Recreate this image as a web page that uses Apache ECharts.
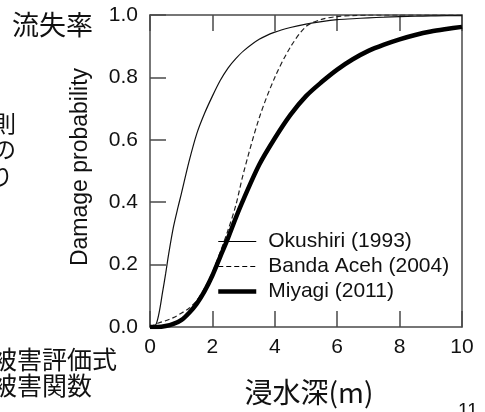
<!DOCTYPE html>
<html>
<head>
<meta charset="utf-8">
<script src="https://cdn.jsdelivr.net/npm/echarts@6/dist/echarts.min.js"></script>
<style>
html,body{margin:0;padding:0;background:#fff;}
#c{width:485px;height:412px;}
</style>
</head>
<body>
<div id="c"></div>
<script>
// ---- data ----
var okushiriDepth = [0, 0.1, 0.2, 0.3, 0.4, 0.5, 0.6, 0.75, 0.9, 1.0, 1.25, 1.5, 1.75, 2.0, 2.25, 2.5, 2.75, 3.0, 3.5, 4.0, 4.5, 5.0, 5.5, 6.0, 6.5, 7.0, 7.5, 8.0, 8.5, 9.0, 9.5, 10];
var okushiriProb  = [0, 0.001, 0.01, 0.05, 0.11, 0.17, 0.235, 0.32, 0.385, 0.425, 0.53, 0.62, 0.685, 0.74, 0.79, 0.83, 0.86, 0.885, 0.922, 0.945, 0.96, 0.971, 0.979, 0.985, 0.988, 0.991, 0.993, 0.995, 0.996, 0.997, 0.998, 0.998];

var bandaDepth = [0, 0.25, 0.5, 0.75, 1.0, 1.25, 1.5, 1.75, 2.0, 2.25, 2.5, 2.75, 3.0, 3.5, 4.0, 4.5, 5.0, 5.5, 6.0, 6.5, 7.0, 8.0, 9.0, 10];
var bandaProb  = [0, 0.012, 0.02, 0.03, 0.044, 0.06, 0.085, 0.125, 0.175, 0.24, 0.31, 0.39, 0.495, 0.67, 0.8, 0.897, 0.963, 0.986, 0.995, 0.998, 1.0, 1.0, 1.0, 1.0];

var miyagiDepth = [0, 0.25, 0.5, 0.75, 1.0, 1.25, 1.5, 1.75, 2.0, 2.25, 2.5, 2.75, 3.0, 3.5, 4.0, 4.5, 5.0, 5.5, 6.0, 6.5, 7.0, 7.5, 8.0, 8.5, 9.0, 9.5, 10];
var miyagiProb  = [0, 0, 0.003, 0.01, 0.022, 0.045, 0.075, 0.115, 0.165, 0.225, 0.285, 0.35, 0.41, 0.52, 0.605, 0.68, 0.74, 0.785, 0.825, 0.858, 0.885, 0.905, 0.922, 0.936, 0.947, 0.955, 0.962];

var seriesNames = ['Okushiri (1993)', 'Banda Aceh (2004)', 'Miyagi (2011)'];
var xTicks = [0, 2, 4, 6, 8, 10];
var yTicks = [0.0, 0.2, 0.4, 0.6, 0.8, 1.0];

function pairs(xs, ys) { return xs.map(function (x, i) { return [x, ys[i]]; }); }

var latin = '"Liberation Sans", Arial, sans-serif';
var cjk = '"Noto Sans CJK JP", sans-serif';
var frame = '#4a4a4a';
var lineW = [1.2, 1.2, 4.5];
var lineDash = ['solid', [5, 3], 'solid'];

var chart = echarts.init(document.getElementById('c'), null, {renderer: 'canvas'});
chart.setOption({
  animation: false,
  backgroundColor: '#fff',
  grid: {left: 150, right: 23, top: 15, bottom: 85},
  legend: {
    orient: 'vertical',
    left: 216, top: 231,
    padding: 0,
    itemGap: 4,
    itemWidth: 38, itemHeight: 14,
    itemStyle: {opacity: 0, borderWidth: 0},
    data: seriesNames.map(function (n, i) {
      return {name: n, lineStyle: {width: lineW[i], type: lineDash[i], color: '#000'}};
    }),
    textStyle: {fontFamily: latin, fontSize: 21, color: '#111', lineHeight: 21, padding: [0, 0, 0, 7]}
  },
  xAxis: [{
    type: 'value', min: xTicks[0], max: xTicks[xTicks.length - 1], interval: 2,
    axisLine: {show: true, onZero: false, lineStyle: {color: frame, width: 1.5}},
    axisTick: {show: true, inside: true, length: 16, lineStyle: {color: frame, width: 1.5}},
    axisLabel: {fontFamily: latin, fontSize: 21, color: '#111', margin: 10},
    splitLine: {show: false}
  }, {
    type: 'value', position: 'top', min: xTicks[0], max: xTicks[xTicks.length - 1], interval: 2,
    axisLine: {show: true, onZero: false, lineStyle: {color: frame, width: 1.5}},
    axisTick: {show: true, inside: true, length: 16, lineStyle: {color: frame, width: 1.5}},
    axisLabel: {show: false},
    splitLine: {show: false}
  }],
  yAxis: [{
    type: 'value', min: yTicks[0], max: yTicks[yTicks.length - 1], interval: 0.2,
    axisLine: {show: true, onZero: false, lineStyle: {color: frame, width: 1.5}},
    axisTick: {show: true, inside: true, length: 16, lineStyle: {color: frame, width: 1.5}},
    axisLabel: {fontFamily: latin, fontSize: 21, color: '#111', margin: 12,
      formatter: function (v) { return v.toFixed(1); }},
    splitLine: {show: false}
  }, {
    type: 'value', position: 'right', min: 0, max: 1, interval: 0.2,
    axisLine: {show: true, onZero: false, lineStyle: {color: frame, width: 1.5}},
    axisTick: {show: false}, axisLabel: {show: false}, splitLine: {show: false}
  }],
  series: [{
    name: seriesNames[0], type: 'line', data: pairs(okushiriDepth, okushiriProb),
    showSymbol: false, symbol: 'none', smooth: 0.3,
    lineStyle: {color: '#111', width: lineW[0]}, itemStyle: {color: '#111'}
  }, {
    name: seriesNames[1], type: 'line', data: pairs(bandaDepth, bandaProb),
    showSymbol: false, symbol: 'none', smooth: 0.3,
    lineStyle: {color: '#222', width: lineW[1], type: lineDash[1]}, itemStyle: {color: '#222'}
  }, {
    name: seriesNames[2], type: 'line', data: pairs(miyagiDepth, miyagiProb),
    showSymbol: false, symbol: 'none', smooth: 0.3,
    lineStyle: {color: '#000', width: lineW[2]}, itemStyle: {color: '#000'}
  }],
  graphic: [
    {type: 'text', x: 81, y: 167, rotation: Math.PI / 2, z: 10,
     style: {text: 'Damage probability', fontFamily: latin, fontSize: 23, fill: '#111',
             textAlign: 'center', textVerticalAlign: 'middle'}},
    {type: 'text', x: 12, y: 25, style: {text: '流失率', fontFamily: cjk, fontSize: 27, fill: '#111', textAlign: 'left', textVerticalAlign: 'middle'}},
    {type: 'text', x: 16, y: 123, style: {text: '則', fontFamily: cjk, fontSize: 23, fill: '#111', textAlign: 'right', textVerticalAlign: 'middle'}},
    {type: 'text', x: 16, y: 149, style: {text: 'の', fontFamily: cjk, fontSize: 23, fill: '#111', textAlign: 'right', textVerticalAlign: 'middle'}},
    {type: 'text', x: 13, y: 176, style: {text: 'り', fontFamily: cjk, fontSize: 23, fill: '#111', textAlign: 'right', textVerticalAlign: 'middle'}},
    {type: 'text', x: -8, y: 359, style: {text: '被害評価式', fontFamily: cjk, fontSize: 25, fill: '#111', textAlign: 'left', textVerticalAlign: 'middle'}},
    {type: 'text', x: -8, y: 385, style: {text: '被害関数', fontFamily: cjk, fontSize: 25, fill: '#111', textAlign: 'left', textVerticalAlign: 'middle'}},
    {type: 'text', x: 309, y: 392, style: {text: '浸水深(m)', fontFamily: cjk, fontSize: 28, fill: '#111', textAlign: 'center', textVerticalAlign: 'middle'}},
    {type: 'text', x: 458, y: 401, style: {text: '11', fontFamily: latin, fontSize: 19, fill: '#111', textAlign: 'left', textVerticalAlign: 'top'}}
  ]
});
</script>
</body>
</html>
